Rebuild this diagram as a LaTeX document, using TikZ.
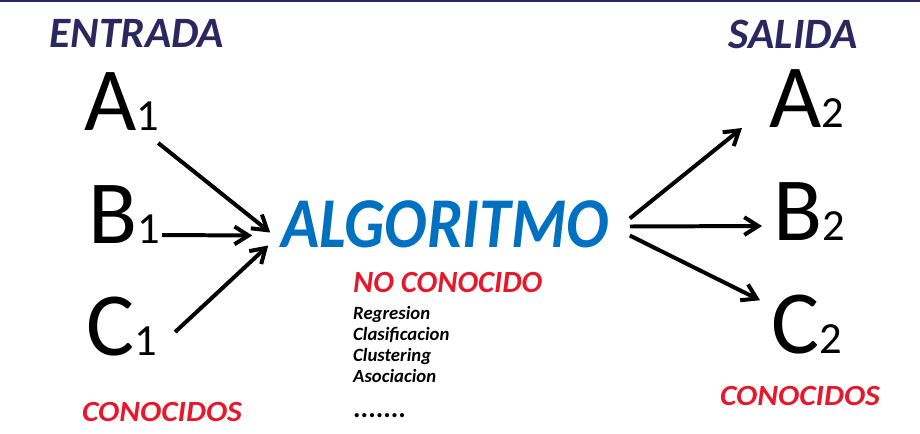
\documentclass[tikz,border=0pt]{standalone}
\usepackage{fontspec}
\setmainfont{Carlito}
\newfontfamily\fuentecond[FakeStretch=0.885]{Carlito}
\newfontfamily\fuenteancha[FakeStretch=1.08]{Carlito}
\usepackage{tikz}
\usetikzlibrary{arrows.meta,positioning}
\definecolor{azulosc}{RGB}{43,40,96}
\definecolor{azulalg}{RGB}{0,112,192}
\definecolor{rojo}{RGB}{232,24,44}
\newcommand{\subind}[1]{{\fontsize{38}{38}\selectfont #1}}

\begin{document}
\begin{tikzpicture}[
    x=0.3mm, y=-0.3mm,
    letra/.style={inner sep=0pt, anchor=base west, font=\fontsize{77}{77}\selectfont},
    titulo/.style={inner sep=0pt, text=azulosc, font=\fontsize{37}{37}\selectfont\bfseries\itshape},
    etiqueta/.style={inner sep=0pt, text=rojo, font=\fuenteancha\fontsize{25}{25}\selectfont\bfseries\itshape},
    flecha/.style={-{Straight Barb[length=4.2mm,width=5.3mm]}, line width=3.4pt, black}
]
\useasboundingbox (0,0) rectangle (920,433);
\draw[azulosc, line width=1.5pt] (0,1) -- (920,1);

% Titles
\node[titulo] (entrada) at (137,33.5) {ENTRADA};
\node[titulo] (salida) at (793,34) {SALIDA};

% Inputs
\node[letra] (A1) at (84,130) {A\subind{1}};
\node[letra] (B1) at (88,243) {B\subind{1}};
\node[letra] (C1) at (86,355) {C\subind{1}};
\node[etiqueta] (conoc1) at (162,412) {CONOCIDOS};

% Algorithm
\node[inner sep=0pt, text=azulalg, font=\fuentecond\fontsize{61}{61}\selectfont\bfseries\itshape] (algo) at (445,224.5) {ALGORITMO};
\node[inner sep=0pt, anchor=base west, text=rojo, font=\fontsize{26.3}{26.3}\selectfont\bfseries\itshape] (noconoc) at (353,292) {NO CONOCIDO};
\node[inner sep=0pt, anchor=north west, align=left, font=\fontsize{16}{17.9}\selectfont\bfseries\itshape] (lista) at (353,306.5)
    {Regresion\\Clasificacion\\Clustering\\Asociacion};
\node[inner sep=0pt, anchor=base west, font=\fontsize{24}{24}\selectfont\bfseries] (puntos) at (353,417) {.......};

% Outputs
\node[letra] (A2) at (769,127) {A\subind{2}};
\node[letra] (B2) at (773,240) {B\subind{2}};
\node[letra] (C2) at (771,353) {C\subind{2}};
\node[etiqueta] (conoc2) at (800,396) {CONOCIDOS};

% Connections
\draw[flecha] ([shift={(-1,13)}]A1.base east) -- ([shift={(-11,8)}]algo.west);
\draw[flecha] ([shift={(2,-8)}]B1.base east) -- ([shift={(-29,11)}]algo.west);
\draw[flecha] ([shift={(18,-23)}]C1.base east) -- ([shift={(-13,21)}]algo.west);
\draw[flecha] ([shift={(21,-6)}]algo.east) -- ([shift={(-27,1)}]A2.base west);
\draw[flecha] ([shift={(21,2)}]algo.east) -- ([shift={(-11,-14)}]B2.base west);
\draw[flecha] ([shift={(21,11)}]algo.east) -- ([shift={(-11,6)}]C2.north west);

\end{tikzpicture}
\end{document}
